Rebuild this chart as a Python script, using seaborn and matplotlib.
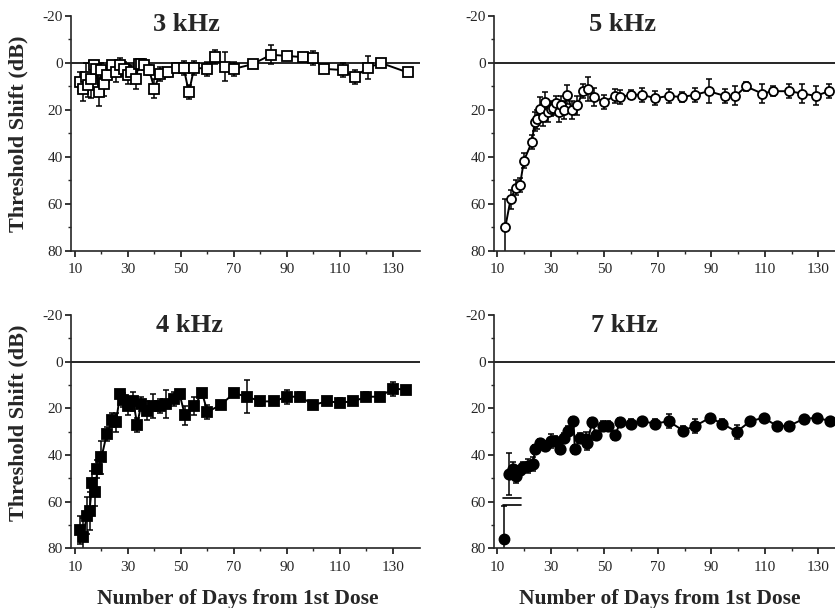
import numpy as np
import pandas as pd
import matplotlib
matplotlib.use("Agg")
import matplotlib.pyplot as plt
import seaborn as sns

# --- données (jours, décalage de seuil en dB, erreur) ---
jours_3k = [12, 13, 14, 15, 16, 17, 18, 19, 20, 21, 22, 24, 25.5, 27, 28.5, 30, 31, 33, 34,
            35, 36, 38, 40, 42, 45, 48.5, 51, 53, 55, 60, 63, 66.5, 70, 77, 84, 90, 96, 100,
            104, 111, 115.5, 120.5, 125.5, 135.5]
seuil_3k = [8, 11, 6, 9.5, 7, 1, 2.5, 12.5, 3, 9, 5, 1, 4, 1, 2.5, 5, 4, 7, 0.5,
            0.5, 1, 3, 11, 4.5, 4, 2, 2, 12.5, 2, 2.5, -2.5, 1.5, 2.5, 0.5, -3.5, -3, -2.5, -2,
            2.5, 3, 6, 2, 0, 4]
err_3k = [4, 5, 6, 5, 8, 2, 3, 6, 3, 5, 3, 2, 4, 3, 3, 4, 3, 4, 2,
          2, 2, 2, 4, 3, 2, 2, 3, 3, 3, 3, 3, 6, 3, 1, 4, 1, 1, 3,
          1, 3, 3, 5, 1, 1]

jours_5k = [13, 15, 17, 18.5, 20, 23, 24, 25, 26, 27, 28, 29, 30, 31, 32, 33, 34, 35, 36,
            38, 40, 42, 44, 46, 50, 54, 56, 60, 64, 69, 74, 79, 84, 89, 95, 99, 103, 109,
            113, 119, 124, 129, 134]
seuil_5k = [70, 58, 53, 52, 41.5, 33.5, 25, 24, 19.5, 23, 16.5, 21, 19.5, 19, 17, 21, 18, 20,
            13.5, 20, 18, 12, 11, 14.5, 16.5, 14, 14.5, 13.5, 13.5, 15, 14, 14.5, 13.5, 12,
            14, 14, 10, 13, 12, 12, 13, 14, 12]
err_5k = [12, 4, 3, 3, 3, 3, 4, 4, 5, 4, 4, 4, 3, 3, 3, 4, 4, 4, 4, 4, 4, 3, 5, 4, 3, 3,
          3, 2, 3, 3, 3, 2, 3, 5, 3, 4, 2, 4, 2, 3, 4, 4, 3]

jours_4k = [12, 13, 14.5, 15.5, 16.5, 17.5, 18.5, 20, 22, 24, 25.5, 27, 28, 30, 32, 33.5, 35,
            37, 39.5, 42, 44.5, 47.5, 49.5, 51.5, 55, 58, 60, 65, 70, 75, 80, 85, 90, 95,
            100, 105, 110, 115, 120, 125, 130, 135]
seuil_4k = [72, 75, 66, 64, 52, 56, 46, 41, 31, 25, 26, 14, 16.5, 19, 17, 27, 18, 21, 19, 19,
            18, 16, 14, 23, 19, 13.5, 21.5, 18.5, 13.5, 15, 17, 17, 15, 15, 18.5, 17, 17.5,
            17, 15, 15, 11.5, 12]
err_4k = [6, 8, 8, 8, 5, 6, 4, 7, 3, 3, 4, 2, 3, 4, 4, 3, 3, 4, 5, 3, 6, 3, 2, 4, 4, 2,
          3, 1, 1, 7, 2, 1, 3, 2, 1, 1, 2, 1, 2, 1, 3, 1]

jours_7k = [12.5, 14.5, 16, 17, 18.5, 19.5, 21.5, 23.5, 24, 26, 28, 30, 31.5, 33.5, 35, 36.5,
            38.5, 39, 41, 43, 43.5, 45.5, 47, 49.5, 51.5, 54, 56, 60, 64, 69, 74, 79.5, 84,
            89.5, 94, 99.5, 104.5, 109.5, 114.5, 119, 124.5, 129.5, 134.5]
seuil_7k = [76, 48, 46, 49, 46.5, 45, 44.5, 44, 37.5, 35, 36, 34, 34, 37.5, 32.5, 29.5, 25.5,
            37.5, 32.5, 33, 35, 26, 31.5, 27.5, 27.5, 31.5, 26, 26.5, 25.5, 26.5, 25.5, 29.5,
            27.5, 24, 26.5, 30, 25.5, 24, 27.5, 27.5, 24.5, 24, 25.5]
err_7k = [14, 9, 3, 3, 2, 2, 3, 3, 2, 2, 2, 3, 2, 2, 2, 2, 2, 2, 2, 3, 3, 2, 2, 2, 2, 2,
          2, 2, 1, 2, 3, 2, 3, 1, 2, 3, 1, 1, 1, 1, 1, 1, 1]
coupure_7k = [58.5, 61.5]   # double trait de coupure de l'axe (7 kHz)

sns.set_theme(style="ticks")
plt.rcParams['font.family'] = ['Liberation Serif', 'DejaVu Serif']
plt.rcParams['axes.linewidth'] = 1.2
plt.rcParams['axes.unicode_minus'] = False

fig = plt.figure(figsize=(8.35, 6.08), dpi=100)

panneaux = [
    # titre, jours, seuil, erreur, marqueur, plein, position, xlim, pos. titre
    ('3 kHz', jours_3k, seuil_3k, err_3k, 's', False, [0.0850, 0.5872, 0.4180, 0.3865], (8.5, 140.2), (0.332, 0.962)),
    ('5 kHz', jours_5k, seuil_5k, err_5k, 'o', False, [0.5916, 0.5872, 0.4084, 0.3865], (8.8, 136.2), (0.378, 0.962)),
    ('4 kHz', jours_4k, seuil_4k, err_4k, 's', True, [0.0850, 0.0979, 0.4180, 0.3840], (8.5, 140.2), (0.341, 0.953)),
    ('7 kHz', jours_7k, seuil_7k, err_7k, 'o', True, [0.5916, 0.0979, 0.4084, 0.3840], (8.8, 136.2), (0.384, 0.953)),
]

for i, (titre, jours, seuil, err, marq, plein, pos, xlim, pos_titre) in enumerate(panneaux):
    ax = fig.add_axes(pos)
    df = pd.DataFrame({'jour': jours, 'seuil': seuil, 'err': err})
    debut = 1 if titre == '7 kHz' else 0
    taille = 7.5 if plein else (7 if marq == 's' else 6.5)

    ax.axhline(0, color='black', lw=1.2, zorder=1)
    ax.errorbar(df['jour'], df['seuil'], yerr=df['err'], fmt='none', ecolor='black',
                elinewidth=1.1, capsize=2.2, capthick=1.1, zorder=2)
    sns.lineplot(data=df.iloc[debut:], x='jour', y='seuil', ax=ax, color='black', lw=1.4,
                 estimator=None, marker=marq, markersize=taille,
                 markerfacecolor='black' if plein else 'white',
                 markeredgecolor='black', markeredgewidth=1.3, zorder=3)
    if debut:
        ax.plot(df['jour'].iloc[:1], df['seuil'].iloc[:1], marker=marq, ms=taille,
                color='black', zorder=3)
        x0 = df['jour'].iloc[0]
        for yc in coupure_7k:
            ax.plot([x0 - 0.5, x0 + 6.5], [yc, yc], color='black', lw=1.2, zorder=3)

    ax.set_xlim(*xlim)
    ax.set_ylim(80, -20)
    ax.set_xticks(np.arange(10, 131, 20))
    ax.set_xticks(np.arange(20, 131, 20), minor=True)
    ax.set_yticks(np.arange(-20, 81, 20))
    ax.set_yticks(np.arange(-10, 80, 20), minor=True)
    ax.tick_params(axis='both', which='major', labelsize=11, length=4, width=1.1,
                   direction='out', color='black', pad=2)
    ax.tick_params(axis='both', which='minor', length=2.5, width=1, direction='out')
    ax.tick_params(axis='x', which='major', pad=5)
    sns.despine(ax=ax)

    ax.text(pos_titre[0], pos_titre[1], titre, transform=ax.transAxes, ha='center',
            va='center', fontsize=19, fontweight='bold')

    if i % 2 == 0:
        ax.set_ylabel('Threshold Shift (dB)', fontsize=16, fontweight='bold')
        ax.yaxis.set_label_coords(-0.123, 0.5 if i == 0 else 0.54)
    else:
        ax.set_ylabel('')
    if i >= 2:
        ax.set_xlabel('Number of Days from 1st Dose', fontsize=15.5, fontweight='bold')
        ax.xaxis.set_label_coords(0.477 if i == 2 else 0.487, -0.172)
    else:
        ax.set_xlabel('')

fig.savefig('out.png', dpi=100)
